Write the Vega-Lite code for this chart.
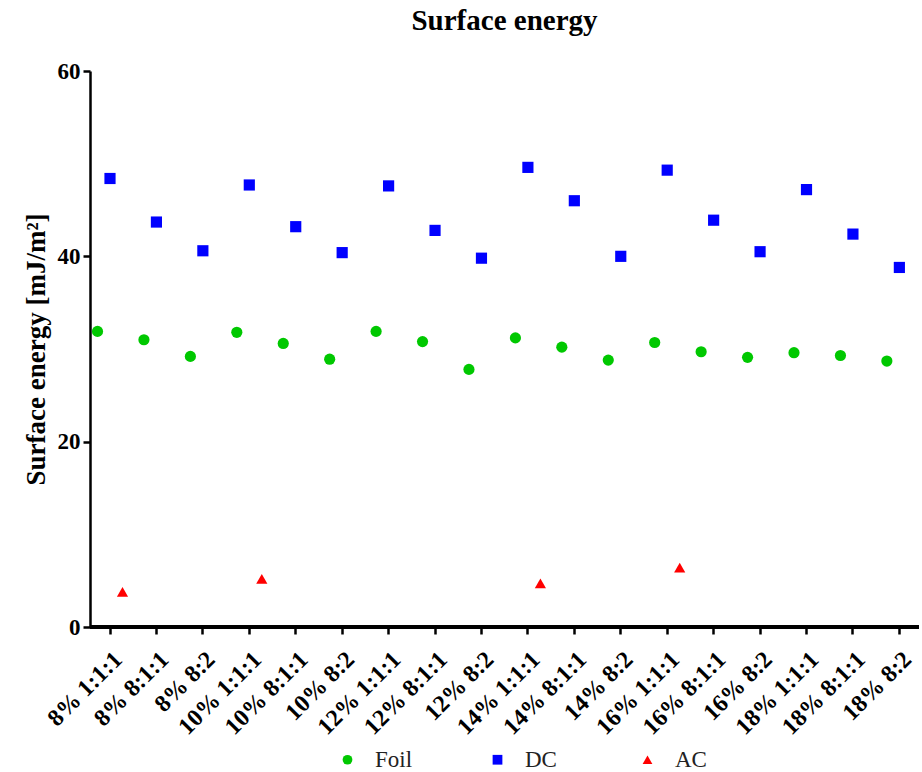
{
  "$schema": "https://vega.github.io/schema/vega-lite/v6.json",
  "autosize": "none",
  "width": 829,
  "height": 556,
  "padding": {"left": 90, "top": 71, "right": 3, "bottom": 145},
  "background": "white",
  "title": {
    "text": "Surface energy",
    "font": "Liberation Serif",
    "fontSize": 29,
    "fontWeight": "bold",
    "color": "black",
    "anchor": "middle",
    "offset": 24
  },
  "config": {
    "view": {"stroke": null},
    "font": "Liberation Serif"
  },
  "data": {
    "values": [
      {"cat": "8% 1:1:1", "series": "Foil", "value": 31.9},
      {"cat": "8% 8:1:1", "series": "Foil", "value": 31.0},
      {"cat": "8% 8:2", "series": "Foil", "value": 29.2},
      {"cat": "10% 1:1:1", "series": "Foil", "value": 31.8},
      {"cat": "10% 8:1:1", "series": "Foil", "value": 30.6},
      {"cat": "10% 8:2", "series": "Foil", "value": 28.9},
      {"cat": "12% 1:1:1", "series": "Foil", "value": 31.9},
      {"cat": "12% 8:1:1", "series": "Foil", "value": 30.8},
      {"cat": "12% 8:2", "series": "Foil", "value": 27.8},
      {"cat": "14% 1:1:1", "series": "Foil", "value": 31.2},
      {"cat": "14% 8:1:1", "series": "Foil", "value": 30.2},
      {"cat": "14% 8:2", "series": "Foil", "value": 28.8},
      {"cat": "16% 1:1:1", "series": "Foil", "value": 30.7},
      {"cat": "16% 8:1:1", "series": "Foil", "value": 29.7},
      {"cat": "16% 8:2", "series": "Foil", "value": 29.1},
      {"cat": "18% 1:1:1", "series": "Foil", "value": 29.6},
      {"cat": "18% 8:1:1", "series": "Foil", "value": 29.3},
      {"cat": "18% 8:2", "series": "Foil", "value": 28.7},
      {"cat": "8% 1:1:1", "series": "DC", "value": 48.4},
      {"cat": "8% 8:1:1", "series": "DC", "value": 43.7},
      {"cat": "8% 8:2", "series": "DC", "value": 40.6},
      {"cat": "10% 1:1:1", "series": "DC", "value": 47.7},
      {"cat": "10% 8:1:1", "series": "DC", "value": 43.2},
      {"cat": "10% 8:2", "series": "DC", "value": 40.4},
      {"cat": "12% 1:1:1", "series": "DC", "value": 47.6},
      {"cat": "12% 8:1:1", "series": "DC", "value": 42.8},
      {"cat": "12% 8:2", "series": "DC", "value": 39.8},
      {"cat": "14% 1:1:1", "series": "DC", "value": 49.6},
      {"cat": "14% 8:1:1", "series": "DC", "value": 46.0},
      {"cat": "14% 8:2", "series": "DC", "value": 40.0},
      {"cat": "16% 1:1:1", "series": "DC", "value": 49.3},
      {"cat": "16% 8:1:1", "series": "DC", "value": 43.9},
      {"cat": "16% 8:2", "series": "DC", "value": 40.5},
      {"cat": "18% 1:1:1", "series": "DC", "value": 47.2},
      {"cat": "18% 8:1:1", "series": "DC", "value": 42.4},
      {"cat": "18% 8:2", "series": "DC", "value": 38.8},
      {"cat": "8% 1:1:1", "series": "AC", "value": 3.8},
      {"cat": "10% 1:1:1", "series": "AC", "value": 5.2},
      {"cat": "14% 1:1:1", "series": "AC", "value": 4.7},
      {"cat": "16% 1:1:1", "series": "AC", "value": 6.4}
    ]
  },
  "layer": [
    {
      "mark": {"type": "rule", "color": "black", "strokeWidth": 2.5},
      "encoding": {"y": {"datum": 0, "type": "quantitative"}}
    },
    {
      "mark": {"type": "point", "filled": true, "opacity": 1, "size": 125},
      "encoding": {
        "x": {
          "field": "cat",
          "type": "nominal",
          "sort": null,
          "scale": {
            "domain": ["8% 1:1:1", "8% 8:1:1", "8% 8:2", "10% 1:1:1", "10% 8:1:1", "10% 8:2", "12% 1:1:1", "12% 8:1:1", "12% 8:2", "14% 1:1:1", "14% 8:1:1", "14% 8:2", "16% 1:1:1", "16% 8:1:1", "16% 8:2", "18% 1:1:1", "18% 8:1:1", "18% 8:2"],
            "type": "band",
            "paddingInner": 0,
            "paddingOuter": 0,
            "range": [-3.2, 832.6]
          },
          "axis": {
            "title": null,
            "domain": false,
            "labelAngle": -45,
            "labelFont": "Liberation Serif",
            "labelFontSize": 24,
            "labelFontWeight": "bold",
            "labelColor": "black",
            "labelPadding": 13,
            "ticks": true,
            "tickSize": 7,
            "tickWidth": 2.5,
            "tickColor": "black",
            "grid": false
          }
        },
        "xOffset": {
          "field": "series",
          "type": "nominal",
          "scale": {"type": "point", "domain": ["Foil", "DC", "AC"], "range": [10.7, 35.7], "padding": 0}
        },
        "y": {
          "field": "value",
          "type": "quantitative",
          "scale": {"domain": [0, 60], "nice": false, "zero": true},
          "axis": {
            "title": "Surface energy [mJ/m²]",
            "titleFont": "Liberation Serif",
            "titleFontSize": 27,
            "titleFontWeight": "bold",
            "titleColor": "black",
            "titlePadding": 7,
            "values": [0, 20, 40, 60],
            "labelFont": "Liberation Serif",
            "labelFontSize": 23,
            "labelFontWeight": "bold",
            "labelColor": "black",
            "labelPadding": 3,
            "tickSize": 7,
            "tickWidth": 2.5,
            "tickColor": "black",
            "domainColor": "black",
            "domainWidth": 2.5,
            "grid": false
          }
        },
        "color": {
          "field": "series",
          "type": "nominal",
          "scale": {"domain": ["Foil", "DC", "AC"], "range": ["#00c800", "#0000ff", "#ff0000"]},
          "legend": {
            "title": null,
            "orient": "none",
            "direction": "horizontal",
            "legendX": 246,
            "legendY": 677,
            "gridAlign": "all",
            "columnPadding": 73,
            "labelFont": "Liberation Serif",
            "labelFontSize": 23,
            "labelColor": "#222222",
            "labelOffset": 16,
            "symbolSize": 95,
            "symbolStrokeWidth": 0
          }
        },
        "shape": {
          "field": "series",
          "type": "nominal",
          "scale": {"domain": ["Foil", "DC", "AC"], "range": ["circle", "square", "triangle-up"]}
        }
      }
    }
  ]
}
